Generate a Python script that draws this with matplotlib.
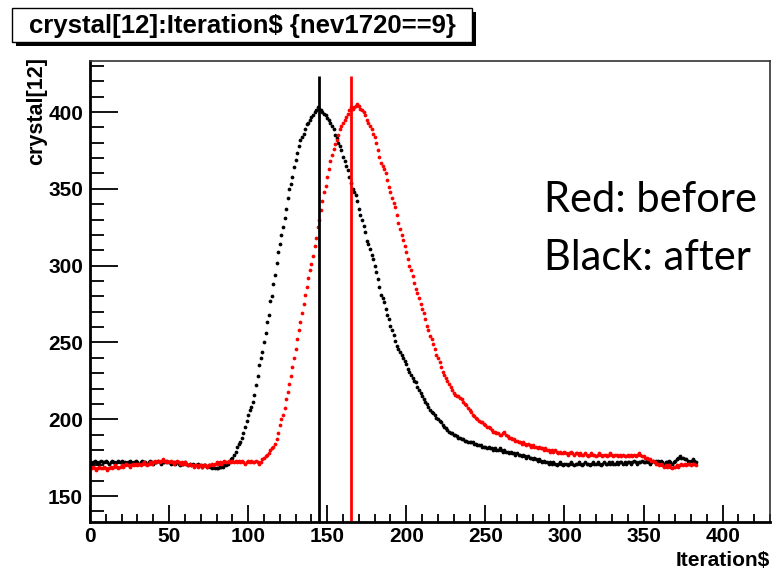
import numpy as np
import matplotlib.pyplot as plt
from matplotlib.patches import Rectangle

# crystal[12] vs Iteration$, after (black) and before (red)
black = [
    172, 171, 172, 173, 172, 171, 172, 173, 172, 172,
    173, 172, 171, 172, 173, 172, 171, 172, 173, 172,
    173, 172, 172, 171, 172, 173, 172, 171, 172, 173,
    172, 171, 172, 173, 172, 172, 171, 172, 173, 172,
    171, 172, 172, 173, 172, 171, 172, 172, 173, 172,
    172, 171, 172, 172, 171, 172, 171, 170, 171, 171,
    172, 171, 170, 171, 170, 171, 170, 170, 171, 170,
    170, 169, 170, 170, 169, 170, 169, 168, 169, 168,
    168, 168, 169, 169, 169, 170, 170, 171, 172, 174,
    175, 177, 179, 182, 184, 185, 188, 191, 195, 199,
    203, 206, 208, 211, 216, 222, 228, 235, 240, 244,
    250, 256, 263, 268, 277, 280, 288, 294, 302, 309,
    314, 320, 325, 331, 337, 344, 350, 353, 358, 364,
    369, 373, 378, 382, 384, 386, 389, 392, 393, 395,
    397, 398, 400, 401, 403, 402, 401, 400, 399, 398,
    396, 395, 393, 391, 389, 385, 383, 380, 378, 375,
    371, 368, 365, 362, 358, 354, 350, 348, 346, 342,
    337, 333, 330, 326, 322, 316, 314, 311, 307, 304,
    300, 296, 291, 286, 281, 279, 276, 272, 268, 265,
    261, 258, 255, 251, 248, 246, 244, 242, 240, 238,
    236, 233, 231, 229, 227, 225, 224, 221, 219, 217,
    215, 213, 211, 210, 208, 206, 205, 204, 203, 201,
    200, 199, 198, 196, 195, 194, 193, 192, 191, 191,
    190, 190, 189, 188, 188, 187, 187, 186, 186, 185,
    185, 185, 185, 184, 184, 183, 183, 183, 182, 182,
    182, 181, 182, 181, 181, 180, 181, 180, 180, 181,
    180, 179, 180, 179, 179, 178, 179, 178, 178, 177,
    178, 177, 177, 176, 177, 176, 175, 176, 175, 175,
    174, 175, 174, 173, 174, 173, 172, 173, 172, 172,
    171, 172, 171, 172, 171, 170, 171, 172, 171, 170,
    171, 171, 170, 171, 172, 171, 170, 171, 171, 172,
    171, 170, 171, 172, 171, 171, 170, 171, 172, 171,
    171, 172, 171, 170, 171, 172, 171, 171, 172, 171,
    172, 171, 171, 172, 171, 172, 172, 171, 172, 171,
    172, 172, 171, 172, 173, 172, 171, 172, 172, 173,
    172, 172, 173, 172, 171, 172, 173, 172, 173, 173,
    172, 173, 172, 171, 172, 172, 173, 172, 171, 172,
    173, 174, 175, 176, 175, 175, 174, 174, 173, 172,
    173, 174, 173, 172,
]

red = [
    168, 168, 169, 168, 167, 168, 169, 168, 168, 169,
    168, 167, 168, 169, 168, 169, 170, 169, 168, 169,
    170, 169, 170, 171, 170, 169, 170, 171, 170, 171,
    170, 171, 170, 171, 172, 171, 170, 171, 172, 171,
    172, 173, 172, 173, 172, 173, 174, 173, 172, 173,
    172, 173, 172, 171, 172, 173, 172, 171, 172, 171,
    172, 171, 170, 171, 170, 170, 169, 170, 169, 170,
    170, 169, 170, 170, 169, 170, 170, 171, 170, 171,
    172, 171, 172, 171, 172, 173, 172, 172, 173, 172,
    173, 172, 173, 172, 173, 172, 173, 172, 171, 172,
    173, 172, 173, 172, 172, 173, 172, 171, 172, 174,
    175, 176, 177, 178, 180, 181, 182, 184, 187, 191,
    196, 200, 203, 207, 213, 218, 223, 228, 234, 240,
    246, 252, 258, 263, 269, 275, 281, 286, 292, 297,
    301, 306, 313, 318, 325, 330, 336, 342, 348, 352,
    358, 363, 368, 372, 376, 379, 382, 385, 389, 391,
    393, 395, 397, 399, 401, 403, 402, 403, 404, 405,
    404, 402, 401, 400, 398, 395, 393, 391, 389, 386,
    384, 380, 375, 371, 367, 365, 363, 360, 356, 351,
    348, 344, 341, 338, 333, 328, 324, 320, 317, 313,
    309, 304, 300, 297, 293, 289, 285, 282, 279, 275,
    272, 269, 265, 261, 258, 254, 252, 249, 246, 242,
    240, 237, 234, 231, 229, 227, 225, 223, 221, 219,
    217, 216, 215, 215, 214, 213, 211, 210, 209, 207,
    206, 205, 203, 202, 201, 200, 199, 198, 198, 197,
    196, 195, 195, 194, 193, 192, 192, 191, 191, 190,
    190, 191, 192, 190, 189, 188, 188, 187, 187, 186,
    186, 185, 185, 184, 185, 184, 183, 184, 183, 182,
    183, 182, 182, 181, 182, 181, 181, 180, 181, 180,
    180, 179, 180, 179, 180, 179, 178, 179, 178, 178,
    179, 178, 177, 178, 179, 178, 177, 178, 178, 177,
    178, 177, 177, 178, 177, 176, 177, 178, 177, 177,
    176, 177, 178, 177, 176, 177, 177, 176, 177, 178,
    177, 176, 177, 177, 176, 177, 176, 177, 176, 176,
    177, 176, 177, 176, 177, 176, 177, 178, 177, 176,
    176, 175, 175, 174, 174, 173, 173, 172, 171, 171,
    170, 171, 170, 169, 170, 169, 170, 169, 168, 169,
    169, 170, 169, 170, 171, 170, 171, 170, 171, 171,
    170, 171, 171, 170,
]

peak_after = 145
peak_before = 165
line_top = 423.5

title = 'crystal[12]:Iteration$ {nev1720==9}'
font = 'Liberation Sans'

fig = plt.figure(figsize=(7.82, 5.69), dpi=100)
ax = fig.add_axes([0.1151, 0.0831, 0.8696, 0.8097])

it = np.arange(len(black))
ax.plot(it, black, 'o', color='black', markersize=2.7, markeredgewidth=0)
ax.plot(it, red, 'o', color='red', markersize=2.7, markeredgewidth=0)

ymin, ymax = 133.3, 433.2
ax.vlines(peak_after, ymin, line_top, color='black', linewidth=2)
ax.vlines(peak_before, ymin, line_top, color='red', linewidth=2)

ax.set_xlim(0, 430)
ax.set_ylim(ymin, ymax)

# ROOT style ticks
ax.set_xticks(np.arange(0, 401, 50))
ax.set_xticks(np.arange(0, 431, 10), minor=True)
ax.set_yticks(np.arange(150, 401, 50))
ax.set_yticks(np.arange(140, 431, 10), minor=True)
ax.tick_params(axis='both', which='both', direction='in', top=False, right=False,
               width=1.3, colors='black')
ax.tick_params(axis='x', which='major', length=12, pad=4)
ax.tick_params(axis='x', which='minor', length=6)
ax.tick_params(axis='y', which='major', length=20, pad=5)
ax.tick_params(axis='y', which='minor', length=10)
for lab in ax.get_xticklabels() + ax.get_yticklabels():
    lab.set_fontfamily(font)
    lab.set_fontweight('bold')
    lab.set_fontsize(15)

ax.spines['left'].set_linewidth(2)
ax.spines['bottom'].set_linewidth(2)
ax.spines['top'].set_linewidth(1.2)
ax.spines['right'].set_linewidth(1.2)
ax.spines['top'].set_color('#333333')
ax.spines['right'].set_color('#333333')

# axis titles
fig.text(37 / 782, 1 - 57 / 569, 'crystal[12]', rotation=90, ha='center', va='top',
         fontsize=15.5, fontweight='bold', family=font)
fig.text(770 / 782, 1 - 560 / 569, 'Iteration$', ha='right', va='center',
         fontsize=15, fontweight='bold', family=font)

# title box with shadow
W, H = 782, 569
fig.patches.append(Rectangle((16 / W, 1 - 46 / H), 460 / W, 34 / H, transform=fig.transFigure,
                             facecolor='black', edgecolor='none', zorder=1))
fig.patches.append(Rectangle((12 / W, 1 - 42 / H), 460 / W, 34 / H, transform=fig.transFigure,
                             facecolor='white', edgecolor='black', linewidth=1, zorder=2))
fig.text(242 / W, 1 - 26 / H, title, ha='center', va='center', fontsize=18.5,
         fontweight='bold', family=font, zorder=3)

# annotation
ax.text(287, 343, 'Red: before', fontsize=30, family='Lato', va='center')
ax.text(287, 305, 'Black: after', fontsize=30, family='Lato', va='center')

plt.savefig('out.png', dpi=100)
